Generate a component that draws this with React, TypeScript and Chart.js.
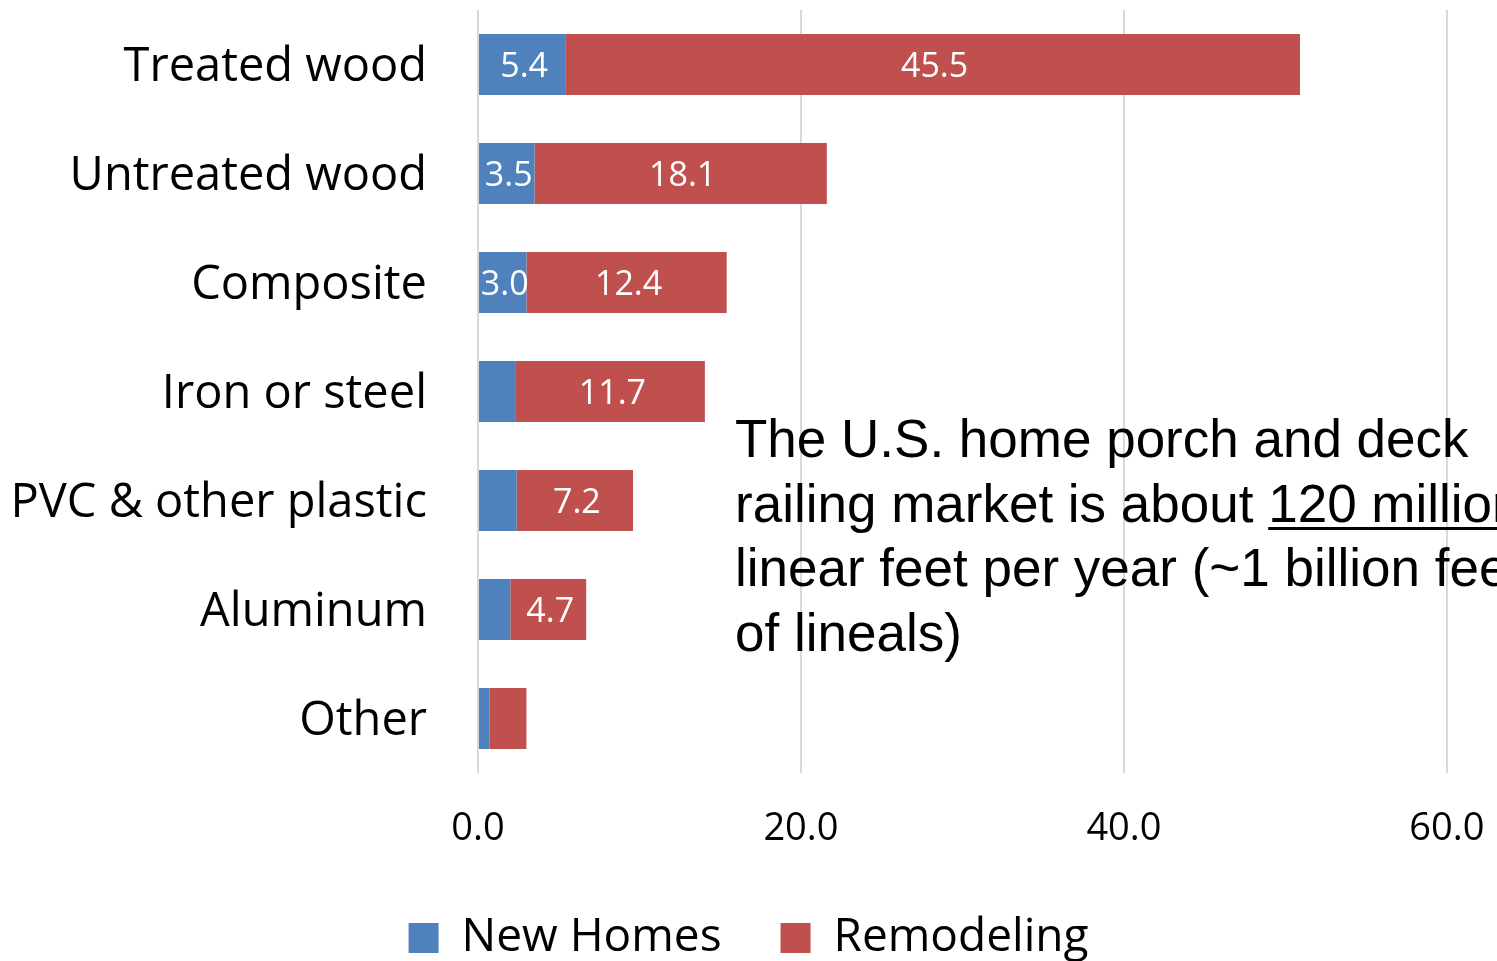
import React, { useEffect, useRef } from "react";
import { Chart, registerables } from "chart.js";

Chart.register(...registerables);

const categories = [
  "Treated wood",
  "Untreated wood",
  "Composite",
  "Iron or steel",
  "PVC & other plastic",
  "Aluminum",
  "Other",
];
const newHomes = [5.4, 3.5, 3.0, 2.35, 2.4, 2.0, 0.7];
const remodeling = [45.5, 18.1, 12.4, 11.7, 7.2, 4.7, 2.3];
const seriesNames = ["New Homes", "Remodeling"];
const xTickValues = [0, 20, 40, 60];
const labelThreshold = 2.5;

const BLUE = "#4F81BD";
const RED = "#C0504D";

const barLabels = {
  id: "barLabels",
  afterDatasetsDraw(chart: any) {
    const ctx = chart.ctx;
    ctx.save();
    ctx.font = "34px 'Open Sans'";
    ctx.fillStyle = "#ffffff";
    ctx.textAlign = "center";
    ctx.textBaseline = "middle";
    chart.data.datasets.forEach((ds: any, di: number) => {
      const meta = chart.getDatasetMeta(di);
      meta.data.forEach((el: any, i: number) => {
        const v = ds.data[i];
        if (v < labelThreshold) return;
        const { x, y, base } = el.getProps(["x", "y", "base"], true);
        ctx.fillText(v.toFixed(1), (x + base) / 2 + 2, y + 3);
      });
    });
    ctx.restore();
  },
};

export default function App() {
  const canvasRef = useRef<HTMLCanvasElement | null>(null);

  useEffect(() => {
    let chart: Chart | null = null;
    let cancelled = false;
    const make = () => {
      if (cancelled || !canvasRef.current) return;
      chart = new Chart(canvasRef.current, {
        type: "bar",
        data: {
          labels: categories,
          datasets: [
            {
              label: seriesNames[0],
              data: newHomes,
              backgroundColor: BLUE,
              borderWidth: 0,
              categoryPercentage: 1,
              barPercentage: 0.56,
            },
            {
              label: seriesNames[1],
              data: remodeling,
              backgroundColor: RED,
              borderWidth: 0,
              categoryPercentage: 1,
              barPercentage: 0.56,
            },
          ],
        },
        options: {
          indexAxis: "y",
          responsive: false,
          animation: false,
          layout: { padding: { top: 10, left: 0, right: 0, bottom: 0 } },
          plugins: {
            tooltip: { enabled: false },
            legend: {
              position: "bottom",
              labels: {
                color: "#000",
                font: { family: "'Open Sans'", size: 46 },
                boxWidth: 30,
                boxHeight: 30,
                padding: 59,
              },
            },
          },
          scales: {
            x: {
              stacked: true,
              min: 0,
              max: 63.1,
              afterBuildTicks: (s: any) => {
                s.ticks = xTickValues.map((v) => ({ value: v }));
              },
              afterFit: (s: any) => {
                s.height = 83;
                s.paddingLeft = 0;
                s.paddingRight = 0;
              },
              grid: { color: "#d9d9d9", lineWidth: 2, drawTicks: false },
              border: { display: false },
              ticks: {
                padding: 33,
                color: "#000",
                font: { family: "'Open Sans'", size: 38 },
                maxRotation: 0,
                autoSkip: false,
                callback: (v: any) => Number(v).toFixed(1),
              },
            },
            y: {
              stacked: true,
              afterFit: (s: any) => {
                s.width = 478;
                s.paddingTop = 0;
                s.paddingBottom = 0;
              },
              grid: { display: false, drawTicks: false },
              border: { display: false },
              ticks: {
                padding: 51,
                labelOffset: 3,
                color: "#000",
                font: { family: "'Open Sans'", size: 47 },
                autoSkip: false,
              },
            },
          },
        },
        plugins: [barLabels],
      } as any);
    };
    const fonts: any = (document as any).fonts;
    if (fonts && fonts.load) {
      Promise.all([
        fonts.load("46px 'Open Sans'"),
        fonts.load("53px 'Liberation Sans'"),
      ])
        .catch(() => {})
        .then(make);
    } else {
      make();
    }
    return () => {
      cancelled = true;
      if (chart) chart.destroy();
    };
  }, []);

  return (
    <div
      style={{
        position: "absolute",
        left: 0,
        top: 0,
        width: 1497,
        height: 961,
        overflow: "hidden",
        background: "#fff",
      }}
    >
      <canvas
        ref={canvasRef}
        width={1497}
        height={971}
        style={{ position: "absolute", left: 0, top: 0, width: 1497, height: 971 }}
      />
      <div
        style={{
          position: "absolute",
          left: 735,
          top: 407,
          fontFamily: "'Liberation Sans', Arial, sans-serif",
          fontSize: 53,
          lineHeight: "64.5px",
          color: "#000",
          whiteSpace: "nowrap",
        }}
      >
        The U.S. home porch and deck
        <br />
        railing market is about{" "}
        <span
          style={{
            textDecoration: "underline",
            textDecorationThickness: "3px",
            textUnderlineOffset: "5px",
          }}
        >
          120 million
        </span>
        <br />
        linear feet per year (~1 billion feet
        <br />
        of lineals)
      </div>
    </div>
  );
}
